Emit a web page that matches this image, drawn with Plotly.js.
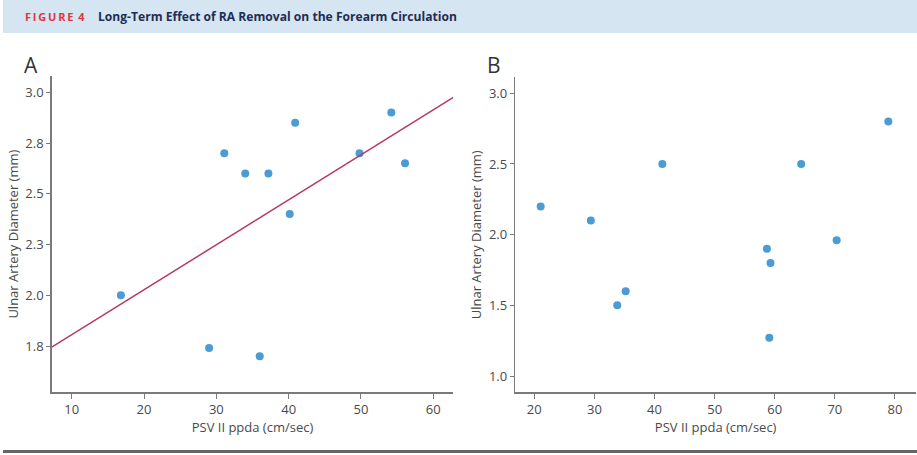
<!DOCTYPE html>
<html>
<head>
<meta charset="utf-8">
<script src="https://cdn.plot.ly/plotly-3.0.1.min.js"></script>
<style>html,body{margin:0;padding:0;background:#fff;}#chart{width:917px;height:455px;}</style>
</head>
<body>
<div id="chart"></div>
<script>
// Panel A data
const psvA = [16.8, 29.0, 31.1, 34.0, 36.0, 37.2, 40.15, 40.9, 49.8, 54.2, 56.1];
const diamA = [2.00, 1.74, 2.70, 2.60, 1.70, 2.60, 2.40, 2.85, 2.70, 2.90, 2.65];
// Panel A regression line endpoints
const fitX = [7.23, 62.77];
const fitY = [1.744, 2.975];
// Panel B data
const psvB = [21.06, 29.4, 33.8, 35.2, 41.3, 58.7, 59.1, 59.3, 64.4, 70.3, 78.9];
const diamB = [2.20, 2.10, 1.50, 1.60, 2.50, 1.90, 1.27, 1.80, 2.50, 1.96, 2.80];
// Tick labels
const ticksAx = [10, 20, 30, 40, 50, 60];
const ticksAyVals = [1.75, 2.0, 2.25, 2.5, 2.75, 3.0];
const ticksAyText = ["1.8", "2.0", "2.3", "2.5", "2.8", "3.0"];
const ticksBx = [20, 30, 40, 50, 60, 70, 80];
const ticksBy = [1.0, 1.5, 2.0, 2.5, 3.0];
const ticksByText = ["1.0", "1.5", "2.0", "2.5", "3.0"];

const W = 917, H = 455;
const px = v => v / W, py = v => 1 - v / H;
const fontFam = "'Open Sans', 'Noto Sans', sans-serif";
const tickFont = {family: fontFam, size: 13, color: "#4a4a4a"};
const titleFont = {family: fontFam, size: 13, color: "#4a4a4a"};
const axisLine = {showline: true, linecolor: "#7a7a7a", linewidth: 1.5, ticks: "outside", tickcolor: "#7a7a7a", tickwidth: 1, showgrid: false, zeroline: false, tickfont: tickFont};

const dotColor = "#4b9bd5";
const traces = [
  {x: psvA, y: diamA, type: "scatter", mode: "markers", marker: {color: dotColor, size: 8}, xaxis: "x", yaxis: "y", hoverinfo: "x+y"},
  {x: fitX, y: fitY, type: "scatter", mode: "lines", line: {color: "#b83a5f", width: 1.5}, xaxis: "x", yaxis: "y"},
  {x: psvB, y: diamB, type: "scatter", mode: "markers", marker: {color: dotColor, size: 8}, xaxis: "x2", yaxis: "y2"}
];

const layout = {
  width: W, height: H,
  margin: {l: 0, r: 0, t: 0, b: 0},
  paper_bgcolor: "#fff", plot_bgcolor: "#fff",
  showlegend: false,
  xaxis: Object.assign({}, axisLine, {domain: [px(51.7), px(453.3)], range: [7.23, 62.77], tickvals: ticksAx, ticklen: 5, anchor: "y",
    title: {text: "PSV II ppda (cm/sec)", font: titleFont, standoff: 1}}),
  yaxis: Object.assign({}, axisLine, {domain: [py(392.3), py(76)], range: [1.522, 3.08], tickvals: ticksAyVals, ticktext: ticksAyText, ticklen: 4, anchor: "x",
    title: {text: "Ulnar Artery Diameter (mm)", font: titleFont, standoff: 4}}),
  xaxis2: Object.assign({}, axisLine, {domain: [px(515.3), px(916)], range: [16.84, 83.5], tickvals: ticksBx, ticklen: 5, anchor: "y2",
    title: {text: "PSV II ppda (cm/sec)", font: titleFont, standoff: 1}}),
  yaxis2: Object.assign({}, axisLine, {domain: [py(392.3), py(77.3)], range: [0.885, 3.113], tickvals: ticksBy, ticktext: ticksByText, ticklen: 4, anchor: "x2",
    title: {text: "Ulnar Artery Diameter (mm)", font: titleFont, standoff: 4}}),
  shapes: [
    {type: "rect", xref: "paper", yref: "paper", x0: px(3), x1: 1, y0: py(33), y1: 1, fillcolor: "#d5e5f2", line: {width: 0}, layer: "below"},
    {type: "line", xref: "paper", yref: "paper", x0: px(3), x1: 1, y0: py(451.5), y1: py(451.5), line: {color: "#666666", width: 3}}
  ],
  annotations: [
    {xref: "paper", yref: "paper", x: px(23), y: py(17), xanchor: "left", yanchor: "middle", showarrow: false,
     text: "<b>F\u2009I\u2009G\u2009U\u2009R\u2009E\u2009 4</b>", font: {family: fontFam, size: 11, color: "#e0353f"}},
    {xref: "paper", yref: "paper", x: px(96), y: py(17), xanchor: "left", yanchor: "middle", showarrow: false,
     text: "<b>Long-Term Effect of RA Removal on the Forearm Circulation</b>", font: {family: fontFam, size: 12.1, color: "#1f2d52"}},
    {xref: "paper", yref: "paper", x: px(22), y: py(65), xanchor: "left", yanchor: "middle", showarrow: false,
     text: "A", font: {family: fontFam, size: 21, color: "#333"}},
    {xref: "paper", yref: "paper", x: px(485), y: py(65), xanchor: "left", yanchor: "middle", showarrow: false,
     text: "B", font: {family: fontFam, size: 21, color: "#333"}}
  ]
};

Plotly.newPlot("chart", traces, layout, {staticPlot: true, displayModeBar: false});
</script>
</body>
</html>
